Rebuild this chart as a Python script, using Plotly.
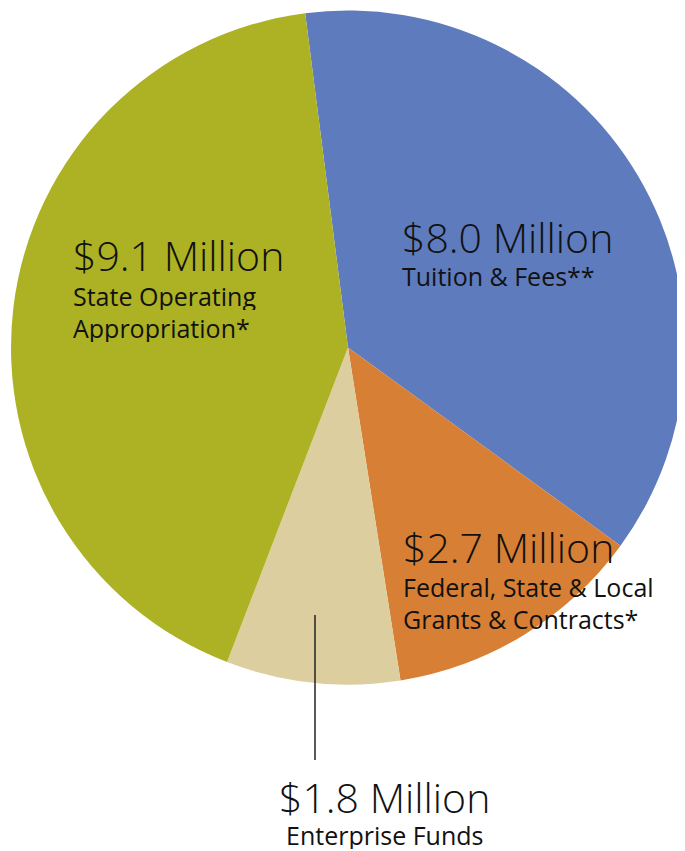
import plotly.graph_objects as go

# body margin of the page is 8px; figure is placed at (8, 8)
OFF = 8
W, H = 685 - OFF, 851 - OFF

categories = ["Tuition & Fees**", "Federal, State & Local Grants & Contracts*",
              "Enterprise Funds", "State Operating Appropriation*"]
values = [8.0, 2.7, 1.8, 9.1]
amount_labels = ["$8.0 Million", "$2.7 Million", "$1.8 Million", "$9.1 Million"]
sub_labels = [["Tuition & Fees**"],
              ["Federal, State & Local", "Grants & Contracts*"],
              ["Enterprise Funds"],
              ["State Operating", "Appropriation*"]]
colors = ["#5E7BBE", "#D77F34", "#DDCE9F", "#ACB223"]

FONT = "Open Sans"

def px(x):
    return (x - OFF) / W

def py(y):
    return 1 - (y - OFF) / H

fig = go.Figure(go.Pie(
    labels=categories, values=values, sort=False, direction="clockwise",
    rotation=-7.3, marker=dict(colors=colors, line=dict(width=0)),
    textinfo="none", hoverinfo="label+value", showlegend=False,
    domain=dict(x=[px(11), 1.0], y=[py(685), py(10)]),
))

# label layout: (x anchor px, xanchor, headline y center px, first sub y center px)
label_pos = [(400, "left", 237, 276),
             (401, "left", 547, 587),
             (384, "center", 797, 835),
             (71, "left", 255, 296)]
sub_gap = 32

annotations = []
for i, (x, xa, yh, ys) in enumerate(label_pos):
    annotations.append(dict(x=px(x), y=py(yh), xref="paper", yref="paper",
                            text=amount_labels[i], showarrow=False, xanchor=xa,
                            yanchor="middle", height=42,
                            font=dict(family=FONT, size=41, color="#111111", weight=300)))
    for j, s in enumerate(sub_labels[i]):
        annotations.append(dict(x=px(x), y=py(ys + j * sub_gap), xref="paper", yref="paper",
                                text=s, showarrow=False, xanchor=xa, yanchor="middle", height=28,
                                font=dict(family=FONT, size=25, color="#111111", weight=400)))

fig.update_layout(
    width=W, height=H, margin=dict(l=0, r=0, t=0, b=0),
    paper_bgcolor="white", plot_bgcolor="white",
    annotations=annotations,
    shapes=[dict(type="line", xref="paper", yref="paper",
                 x0=px(315), x1=px(315), y0=py(615), y1=py(760),
                 line=dict(color="#222222", width=1.5))],
)

fig.write_html("out.html")
